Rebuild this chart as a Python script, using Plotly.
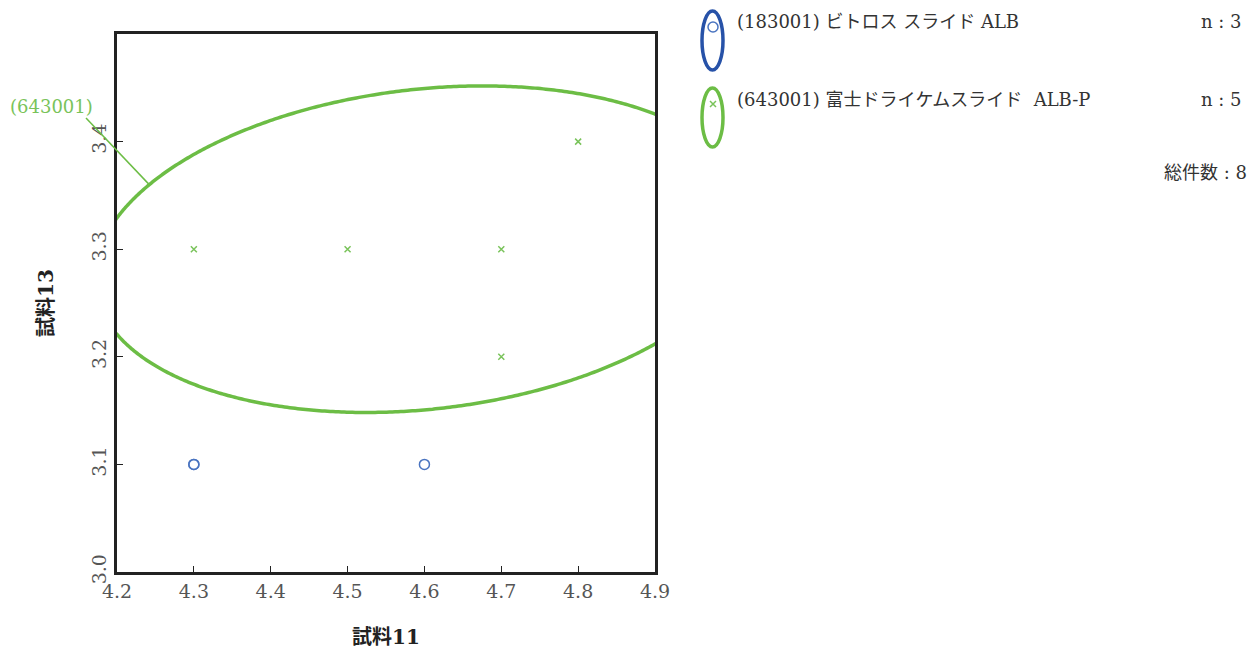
import numpy as np
import plotly.graph_objects as go

# ---- data ----
blue_name = "(183001) ビトロス スライド ALB"
blue_x = [4.3, 4.3, 4.6]
blue_y = [3.1, 3.1, 3.1]

green_name = "(643001) 富士ドライケムスライド  ALB-P"
green_x = [4.3, 4.5, 4.7, 4.7, 4.8]
green_y = [3.3, 3.3, 3.3, 3.2, 3.4]

x_ticks = [4.2, 4.3, 4.4, 4.5, 4.6, 4.7, 4.8, 4.9]
y_ticks = [3.0, 3.1, 3.2, 3.3, 3.4]

X_RANGE = [4.2, 4.9]
Y_RANGE = [3.0, 3.5]

BLUE_LINE = "#2752a8"
BLUE_MARK = "#4a74c0"
GREEN_LINE = "#6cbd45"
GREEN_MARK = "#79c35a"
FONT = "DejaVu Serif, Noto Sans CJK JP, serif"

W, H = 1257, 653
PL, PR, PT, PB = 117, 655, 34, 572  # plot frame in pixels


def conf_ellipse(xs, ys, chi2=4.605, n=721):
    """90% confidence ellipse from the sample covariance."""
    xs, ys = np.asarray(xs), np.asarray(ys)
    cov = np.cov(xs, ys)
    vals, vecs = np.linalg.eigh(cov)
    if np.min(vals) <= 1e-12:
        return None
    t = np.linspace(0, 2 * np.pi, n)
    circ = np.vstack([np.cos(t), np.sin(t)])
    pts = vecs @ (np.sqrt(vals * chi2)[:, None] * circ)
    return xs.mean() + pts[0], ys.mean() + pts[1]


def to_px(x, y):
    px = PL + (x - X_RANGE[0]) / (X_RANGE[1] - X_RANGE[0]) * (PR - PL)
    py = PB - (y - Y_RANGE[0]) / (Y_RANGE[1] - Y_RANGE[0]) * (PB - PT)
    return px, py


fig = go.Figure()

for xs, ys, color in [(blue_x, blue_y, BLUE_LINE), (green_x, green_y, GREEN_LINE)]:
    ell = conf_ellipse(xs, ys)
    if ell is not None:
        fig.add_trace(go.Scatter(x=ell[0], y=ell[1], mode="lines",
                                 line=dict(color=color, width=3.5, simplify=False),
                                 hoverinfo="skip", showlegend=False))

fig.add_trace(go.Scatter(x=blue_x, y=blue_y, mode="markers", name=blue_name,
                         marker=dict(symbol="circle-open", size=10, color=BLUE_MARK,
                                     line=dict(width=1.5)),
                         showlegend=False))
fig.add_trace(go.Scatter(x=green_x, y=green_y, mode="markers", name=green_name,
                         marker=dict(symbol="x-thin-open", size=6, color=GREEN_MARK,
                                     line=dict(width=1.5, color=GREEN_MARK)),
                         showlegend=False))

# ---- legend drawn on a full-figure pixel-unit axis pair ----
fig.add_trace(go.Scatter(x=[713], y=[27], mode="markers", xaxis="x2", yaxis="y2",
                         marker=dict(symbol="circle-open", size=10, color=BLUE_MARK,
                                     line=dict(width=1.5)),
                         hoverinfo="skip", showlegend=False))
fig.add_trace(go.Scatter(x=[713], y=[104], mode="markers", xaxis="x2", yaxis="y2",
                         marker=dict(symbol="x-thin-open", size=6, color=GREEN_MARK,
                                     line=dict(width=1.5, color=GREEN_MARK)),
                         hoverinfo="skip", showlegend=False))

shapes = [
    dict(type="circle", xref="x2", yref="y2", x0=702, x1=723, y0=11, y1=70,
         line=dict(color=BLUE_LINE, width=3.5)),
    dict(type="circle", xref="x2", yref="y2", x0=702, x1=723, y0=88, y1=147,
         line=dict(color=GREEN_LINE, width=3.5)),
]

# leader line from the group label to the upper arc of the green ellipse
lead_x = 4.242
gy = np.asarray(green_y)
ell = conf_ellipse(green_x, green_y)
upper = ell[1] > gy.mean()
ex, ey = ell[0][upper], ell[1][upper]
order = np.argsort(ex)
lead_y = float(np.interp(lead_x, ex[order], ey[order]))
lpx, lpy = to_px(lead_x, lead_y)
shapes.append(dict(type="line", xref="x2", yref="y2", x0=86, y0=118, x1=lpx, y1=lpy,
                   line=dict(color=GREEN_LINE, width=1.5)))

TXT = dict(family=FONT, size=18, color="#333")
annotations = [
    dict(text="(643001)", x=95, y=106, xref="x2", yref="y2", xanchor="right",
         yanchor="middle", showarrow=False, font=dict(family=FONT, size=18, color=GREEN_MARK)),
    dict(text=blue_name.replace(" ", "\u00a0"), x=735, y=21, xref="x2", yref="y2",
         xanchor="left", yanchor="middle", showarrow=False, font=TXT),
    dict(text="n\u00a0:\u00a0%d" % len(blue_x), x=1244, y=21, xref="x2", yref="y2",
         xanchor="right", yanchor="middle", showarrow=False, font=TXT),
    dict(text=green_name.replace(" ", "\u00a0"), x=735, y=99, xref="x2", yref="y2",
         xanchor="left", yanchor="middle", showarrow=False, font=TXT),
    dict(text="n\u00a0:\u00a0%d" % len(green_x), x=1244, y=99, xref="x2", yref="y2",
         xanchor="right", yanchor="middle", showarrow=False, font=TXT),
    dict(text="総件数\u00a0:\u00a0%d" % (len(blue_x) + len(green_x)), x=1249, y=172,
         xref="x2", yref="y2", xanchor="right", yanchor="middle", showarrow=False,
         font=TXT),
]

fig.update_layout(
    width=W, height=H,
    margin=dict(l=0, r=0, t=0, b=0),
    paper_bgcolor="white", plot_bgcolor="rgba(0,0,0,0)",
    font=dict(family=FONT, color="#333"),
    xaxis=dict(domain=[PL / W, PR / W], range=X_RANGE, tickvals=x_ticks,
               ticktext=["%.1f" % v for v in x_ticks], automargin=False,
               ticks="inside", ticklen=6, tickcolor="#222", tickwidth=1,
               showline=True, linecolor="#222", linewidth=3, mirror=True,
               showgrid=False, zeroline=False,
               tickfont=dict(family=FONT, size=19, color="#555"),
               title=dict(text="<b>試料11</b>", standoff=30,
                          font=dict(family=FONT, size=20, color="#222"))),
    yaxis=dict(domain=[(H - PB) / H, (H - PT) / H], range=Y_RANGE, tickvals=y_ticks,
               ticktext=["%.1f" % v for v in y_ticks], tickangle=-90, automargin=False,
               ticks="inside", ticklen=6, tickcolor="#222", tickwidth=1,
               showline=True, linecolor="#222", linewidth=3, mirror=True,
               showgrid=False, zeroline=False,
               tickfont=dict(family=FONT, size=19, color="#555"),
               title=dict(text="<b>試料13</b>", standoff=30,
                          font=dict(family=FONT, size=20, color="#222"))),
    xaxis2=dict(domain=[0, 1], range=[0, W], visible=False, anchor="y2", fixedrange=True),
    yaxis2=dict(domain=[0, 1], range=[H, 0], visible=False, anchor="x2", fixedrange=True),
    shapes=shapes,
    annotations=annotations,
    showlegend=False,
)

fig.write_html("out.html")
